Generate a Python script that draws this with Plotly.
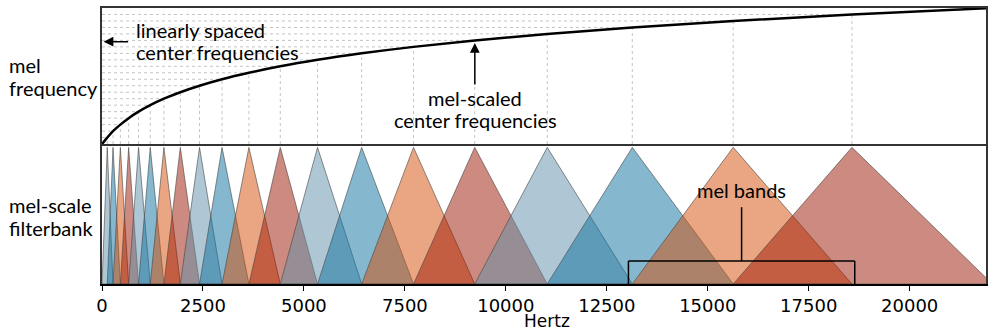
import plotly.graph_objects as go

# ---- data ----
# band edges / center frequencies in Hz (mel-spaced), 20 mel bands
hz_points = [0, 130, 273, 455, 660, 905, 1195, 1533, 1940, 2415, 2973,
             3638, 4415, 5337, 6430, 7714, 9230, 11025, 13132, 15630,
             18570, 22050]
# position of each point on the (linear) mel axis
mel_points = [0, 1, 2, 3, 4, 5, 6, 7, 8, 9, 10, 11, 12, 13, 14, 15, 16,
              17, 18, 19, 20, 21]
tick_vals = [0, 2500, 5000, 7500, 10000, 12500, 15000, 17500, 20000]
tick_text = ["0", "2500", "5000", "7500", "10000", "12500", "15000",
             "17500", "20000"]
palette = ["rgba(95,143,169,0.5)", "rgba(11,111,157,0.5)",
           "rgba(213,77,5,0.5)", "rgba(155,21,1,0.5)"]

X_MAX = 21890
LABEL_FONT = "Lato"
LABEL_SIZE = 20
TICK_FONT = "DejaVu Sans"

M_T, M_B, H = 8, 46, 330
PLOT_H = H - M_T - M_B


def py(pixel_y):
    """pixel row -> paper y"""
    return (H - M_B - pixel_y) / PLOT_H


def px(pixel_x):
    return (pixel_x - 102) / 886


fig = go.Figure()

# ---- top panel: dotted guide lines ----
gx, gy = [], []
for k in range(1, len(hz_points) - 1):
    gx += [0, hz_points[k], None]
    gy += [mel_points[k], mel_points[k], None]
    gx += [hz_points[k], hz_points[k], None]
    gy += [0, mel_points[k], None]
fig.add_trace(go.Scatter(x=gx, y=gy, mode="lines", xaxis="x2", yaxis="y2",
                         line=dict(color="#c4c4c4", width=1, dash="dot"),
                         hoverinfo="skip", showlegend=False))
# mel curve
fig.add_trace(go.Scatter(x=hz_points, y=mel_points, mode="lines",
                         xaxis="x2", yaxis="y2",
                         line=dict(color="black", width=2.5, shape="spline",
                                   smoothing=1.0),
                         hoverinfo="skip", showlegend=False))

# ---- bottom panel: triangular filters ----
for b in range(len(hz_points) - 2):
    fig.add_trace(go.Scatter(
        x=[hz_points[b], hz_points[b + 1], hz_points[b + 2], hz_points[b]],
        y=[0, 1, 0, 0], mode="lines", fill="toself",
        fillcolor=palette[b % 4],
        line=dict(color="rgba(70,70,70,0.6)", width=1),
        hoverinfo="skip", showlegend=False))

# ---- annotations ----
ann = []


def label(text, x_px, y_px, anchor="left", family=LABEL_FONT,
          size=LABEL_SIZE):
    ann.append(dict(xref="paper", yref="paper", x=px(x_px), y=py(y_px),
                    xanchor=anchor, yanchor="middle", text=text,
                    showarrow=False,
                    font=dict(family=family, size=size, color="black")))


label("mel", 7, 65)
label("frequency", 7, 88)
label("mel-scale", 7, 205)
label("filterbank", 7, 228)
label("linearly spaced", 134, 30)
label("center frequencies", 134, 52)
label("mel-scaled", 476, 98, "center")
label("center frequencies", 476, 120, "center")
label("mel bands", 743, 190, "center")
label("Hertz", 548, 321, "center", TICK_FONT, 17)

ann.append(dict(xref="x2", yref="y2", x=40, y=15.8, ax=26, ay=0,
                text="", showarrow=True, arrowhead=2, arrowsize=1.3,
                arrowwidth=1.5, arrowcolor="black"))
ann.append(dict(xref="x2", yref="y2", x=9232, y=15.6, ax=0, ay=43,
                text="", showarrow=True, arrowhead=2, arrowsize=1.3,
                arrowwidth=1.5, arrowcolor="black"))

shapes = []
br_l, br_r, br_mid = 13036, 18640, 15838
shapes.append(dict(type="line", xref="x", yref="y", x0=br_mid, x1=br_mid,
                   y0=0.168, y1=0.562, line=dict(color="black", width=1.5)))
shapes.append(dict(type="line", xref="x", yref="y", x0=br_l, x1=br_r,
                   y0=0.168, y1=0.168, line=dict(color="black", width=1.5)))
shapes.append(dict(type="line", xref="x", yref="y", x0=br_l, x1=br_l,
                   y0=0, y1=0.168, line=dict(color="black", width=1.5)))
shapes.append(dict(type="line", xref="x", yref="y", x0=br_r, x1=br_r,
                   y0=0, y1=0.168, line=dict(color="black", width=1.5)))

fig.update_layout(
    width=988, height=330,
    margin=dict(l=102, r=0, t=M_T, b=M_B),
    paper_bgcolor="white", plot_bgcolor="white",
    showlegend=False,
    annotations=ann, shapes=shapes,
    xaxis=dict(domain=[0, 1], range=[0, X_MAX], anchor="y",
               tickvals=tick_vals, ticktext=tick_text,
               ticks="outside", ticklen=5, tickcolor="black",
               tickfont=dict(family=TICK_FONT, size=18, color="black"),
               showgrid=False, zeroline=False,
               showline=True, linecolor="black", linewidth=1.5, mirror=True),
    yaxis=dict(domain=[0, 0.5], range=[0, 1.01], showticklabels=False,
               showgrid=False, zeroline=False, ticks="",
               showline=True, linecolor="#333", linewidth=1.5, mirror=True),
    xaxis2=dict(domain=[0, 1], range=[0, X_MAX], anchor="y2",
                showticklabels=False, ticks="", showgrid=False,
                zeroline=False, showline=True, linecolor="#333",
                linewidth=1.5, mirror=True),
    yaxis2=dict(domain=[0.507, 1], range=[0, 21], anchor="x2",
                showticklabels=False, ticks="", showgrid=False,
                zeroline=False, showline=True, linecolor="#333",
                linewidth=1.5, mirror=True),
)

fig.write_html("out.html")
